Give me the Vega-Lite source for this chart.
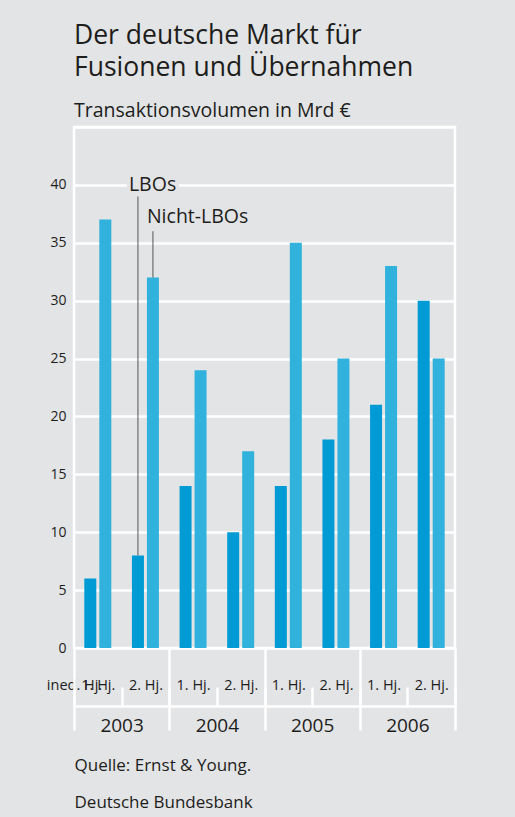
{
  "$schema": "https://vega.github.io/schema/vega-lite/v6.json",
  "width": 381,
  "height": 521,
  "autosize": {"type": "none"},
  "padding": {"left": 74, "top": 127, "right": 60, "bottom": 169},
  "background": "#e3e4e6",
  "config": {
    "font": "Open Sans",
    "view": {"fill": "#e3e4e6", "stroke": "#ffffff", "strokeWidth": 2.5}
  },
  "title": {
    "text": ["Der deutsche Markt für", "Fusionen und Übernahmen"],
    "subtitle": "Transaktionsvolumen in Mrd €",
    "anchor": "start",
    "frame": "group",
    "fontSize": 26.5,
    "fontWeight": "normal",
    "lineHeight": 32,
    "color": "#1d1d1b",
    "subtitleFontSize": 19.5,
    "subtitleColor": "#1d1d1b",
    "subtitlePadding": 20,
    "offset": 7
  },
  "data": {
    "values": [
      {"year": "2003", "period": "2003-1", "series": "LBOs", "value": 6},
      {"year": "2003", "period": "2003-1", "series": "Nicht-LBOs", "value": 37},
      {"year": "2003", "period": "2003-2", "series": "LBOs", "value": 8},
      {"year": "2003", "period": "2003-2", "series": "Nicht-LBOs", "value": 32},
      {"year": "2004", "period": "2004-1", "series": "LBOs", "value": 14},
      {"year": "2004", "period": "2004-1", "series": "Nicht-LBOs", "value": 24},
      {"year": "2004", "period": "2004-2", "series": "LBOs", "value": 10},
      {"year": "2004", "period": "2004-2", "series": "Nicht-LBOs", "value": 17},
      {"year": "2005", "period": "2005-1", "series": "LBOs", "value": 14},
      {"year": "2005", "period": "2005-1", "series": "Nicht-LBOs", "value": 35},
      {"year": "2005", "period": "2005-2", "series": "LBOs", "value": 18},
      {"year": "2005", "period": "2005-2", "series": "Nicht-LBOs", "value": 25},
      {"year": "2006", "period": "2006-1", "series": "LBOs", "value": 21},
      {"year": "2006", "period": "2006-1", "series": "Nicht-LBOs", "value": 33},
      {"year": "2006", "period": "2006-2", "series": "LBOs", "value": 30},
      {"year": "2006", "period": "2006-2", "series": "Nicht-LBOs", "value": 25}
    ]
  },
  "layer": [
    {
      "layer": [
        {
          "transform": [{"filter": "datum.series == 'LBOs'"}],
          "mark": {"type": "bar", "width": 12, "xOffset": -7.5, "color": "#009ad5"},
          "encoding": {
            "x": {
              "field": "period", "type": "nominal", "title": null,
              "scale": {"paddingInner": 0, "paddingOuter": 0},
              "axis": {
                "title": null,
                "orient": "bottom",
                "offset": 58,
                "domain": true, "domainColor": "#ffffff", "domainWidth": 2.5,
                "ticks": true, "tickColor": "#ffffff", "tickWidth": 2.5, "tickSize": -19,
                "tickBand": "extent",
                "grid": false,
                "labelAngle": 0,
                "labelBaseline": "middle",
                "labelPadding": -2,
                "labelFontSize": 14.5,
                "labelColor": "#1d1d1b",
                "labelExpr": "substring(datum.value, 5) + '. Hj.'"
              }
            },
            "y": {
              "field": "value", "type": "quantitative", "title": null,
              "scale": {"domain": [0, 45], "nice": false},
              "axis": {
                "title": null,
                "values": [0, 5, 10, 15, 20, 25, 30, 35, 40, 45],
                "labelExpr": "datum.value == 45 ? '' : datum.label",
                "grid": true, "gridColor": "#ffffff", "gridWidth": 2.5, "gridOpacity": 1,
                "domain": false, "ticks": false,
                "labelPadding": 8,
                "labelFontSize": 14,
                "labelColor": "#1d1d1b"
              }
            }
          }
        },
        {
          "transform": [{"filter": "datum.series == 'Nicht-LBOs'"}],
          "mark": {"type": "bar", "width": 12, "xOffset": 7.5, "color": "#31b2dd"},
          "encoding": {
            "x": {"field": "period", "type": "nominal", "title": null},
            "y": {"field": "value", "type": "quantitative", "title": null}
          }
        },
        {
          "transform": [{"filter": "datum.period == '2003-2' && datum.series == 'LBOs'"}],
          "mark": {"type": "rule", "color": "#555555", "strokeWidth": 1, "xOffset": -7.5},
          "encoding": {
            "x": {"field": "period", "type": "nominal", "title": null},
            "y": {"field": "value", "type": "quantitative", "title": null},
            "y2": {"datum": 39}
          }
        },
        {
          "transform": [{"filter": "datum.period == '2003-2' && datum.series == 'Nicht-LBOs'"}],
          "mark": {"type": "rule", "color": "#555555", "strokeWidth": 1, "xOffset": 7.5},
          "encoding": {
            "x": {"field": "period", "type": "nominal", "title": null},
            "y": {"field": "value", "type": "quantitative", "title": null},
            "y2": {"datum": 36}
          }
        },
        {
          "transform": [{"filter": "datum.period == '2003-2' && datum.series == 'LBOs'"}],
          "mark": {"type": "text", "align": "left", "baseline": "middle", "dx": -16.5, "fontSize": 19.5, "stroke": "#e3e4e6", "strokeWidth": 8, "fill": "#e3e4e6"},
          "encoding": {
            "x": {"field": "period", "type": "nominal", "title": null},
            "y": {"datum": 40},
            "text": {"field": "series"}
          }
        },
        {
          "transform": [{"filter": "datum.period == '2003-2' && datum.series == 'LBOs'"}],
          "mark": {"type": "text", "align": "left", "baseline": "middle", "dx": -16.5, "fontSize": 19.5, "fill": "#1d1d1b"},
          "encoding": {
            "x": {"field": "period", "type": "nominal", "title": null},
            "y": {"datum": 40},
            "text": {"field": "series"}
          }
        },
        {
          "transform": [{"filter": "datum.period == '2003-2' && datum.series == 'Nicht-LBOs'"}],
          "mark": {"type": "text", "align": "left", "baseline": "middle", "dx": 1.5, "fontSize": 19.5, "fill": "#1d1d1b"},
          "encoding": {
            "x": {"field": "period", "type": "nominal", "title": null},
            "y": {"datum": 37.2},
            "text": {"field": "series"}
          }
        }
      ]
    },
    {
      "mark": {"type": "point", "opacity": 0},
      "encoding": {
        "x": {
          "field": "year", "type": "nominal",
          "scale": {"paddingInner": 0, "paddingOuter": 0},
          "axis": {
            "orient": "bottom",
            "offset": 0,
            "domain": false,
            "ticks": true, "tickColor": "#ffffff", "tickWidth": 2.5, "tickSize": 82,
            "tickBand": "extent",
            "grid": false,
            "labelAngle": 0,
            "labelBaseline": "middle",
            "labelPadding": -5,
            "labelFontSize": 19,
            "labelColor": "#1d1d1b",
            "title": ["Quelle: Ernst & Young.", "Deutsche Bundesbank"],
            "titleAnchor": "start",
            "titleAlign": "left",
            "titleFontSize": 17,
            "titleFontWeight": "normal",
            "titleColor": "#1d1d1b",
            "titleLineHeight": 37,
            "titlePadding": 22
          }
        },
        "y": {"datum": 0}
      }
    }
  ],
  "resolve": {"scale": {"x": "independent"}, "axis": {"x": "independent"}}
}
